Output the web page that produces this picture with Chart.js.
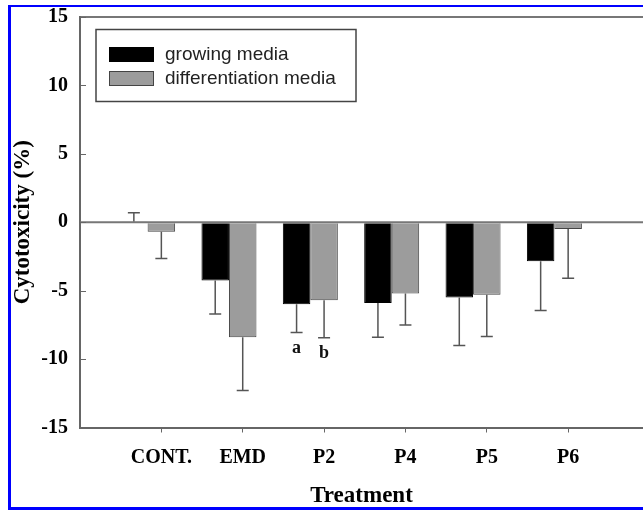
<!DOCTYPE html>
<html>
<head>
<meta charset="utf-8">
<script src="https://cdn.jsdelivr.net/npm/chart.js@4.4.0/dist/chart.umd.min.js"></script>
<style>
  html, body { margin: 0; padding: 0; background: #fff; overflow: hidden; }
  #wrap { position: relative; width: 643px; height: 510px; }
  #frame { position: absolute; left: 8px; top: 5px; width: 700px; height: 505px; box-sizing: border-box;
           border-left: 3px solid #0000ff; border-top: 2px solid #0000ff; border-bottom: 3px solid #0000ff;
           pointer-events: none; }
</style>
</head>
<body>
<div id="wrap">
  <canvas id="chart" width="643" height="510"></canvas>
  <div id="frame"></div>
</div>
<script>
// values
const categories = ['CONT.', 'EMD', 'P2', 'P4', 'P5', 'P6'];
const growingMedia = [0.05, -4.25, -6.0, -5.9, -5.5, -2.85];
const growingErr = [0.65, 2.45, 2.05, 2.5, 3.5, 3.6];
const diffMedia = [-0.7, -8.4, -5.7, -5.2, -5.3, -0.5];
const diffErr = [1.95, 3.9, 2.75, 2.3, 3.05, 3.6];
const yTicks = [-15, -10, -5, 0, 5, 10, 15];

// letters under the P2 bars
const noteText = ['a', 'b'];
const noteCategory = ['P2', 'P2'];
const noteSeries = [0, 1];
const noteY = [-9.25, -9.55];

const serif = '"Liberation Serif", "Times New Roman", serif';
const sans = '"Liberation Sans", Arial, sans-serif';

// bars sit half a bar left of the tick (tick lines up with the grey bar)
const barFrac = 0.676;
const shift = barFrac / 4;
const xMax = 6.92;

const errorBars = {
  id: 'errorBars',
  afterDatasetsDraw(chart) {
    const ctx = chart.ctx, y = chart.scales.y, area = chart.chartArea;
    ctx.save();
    // zero line over the bars
    ctx.strokeStyle = '#777';
    ctx.lineWidth = 2;
    const y0 = y.getPixelForValue(0);
    ctx.beginPath(); ctx.moveTo(area.left, y0); ctx.lineTo(area.right, y0); ctx.stroke();

    ctx.strokeStyle = '#555';
    ctx.lineWidth = 1.5;
    chart.data.datasets.forEach((ds, di) => {
      const meta = chart.getDatasetMeta(di);
      meta.data.forEach((bar, i) => {
        const v = ds.data[i].y, e = ds.errors[i];
        const end = y.getPixelForValue(v < 0 ? v - e : v + e);
        ctx.beginPath();
        ctx.moveTo(bar.x, bar.y); ctx.lineTo(bar.x, end);
        ctx.moveTo(bar.x - 6, end); ctx.lineTo(bar.x + 6, end);
        ctx.stroke();
      });
    });
    ctx.restore();
  }
};

const extras = {
  id: 'extras',
  afterDraw(chart) {
    const ctx = chart.ctx, y = chart.scales.y, area = chart.chartArea;
    ctx.save();
    // inward y tick marks
    ctx.strokeStyle = '#666';
    ctx.lineWidth = 1;
    yTicks.forEach(v => {
      const py = Math.round(y.getPixelForValue(v)) + 0.5;
      ctx.beginPath(); ctx.moveTo(area.left, py); ctx.lineTo(area.left + 6, py); ctx.stroke();
    });

    // legend box
    ctx.strokeStyle = '#444';
    ctx.lineWidth = 1.5;
    ctx.strokeRect(96, 29.5, 260, 72);
    chart.data.datasets.forEach((ds, i) => {
      const top = 47 + i * 24;
      ctx.fillStyle = ds.backgroundColor;
      ctx.fillRect(109, top, 45, 15);
      ctx.strokeStyle = ds.borderColor;
      ctx.lineWidth = 1;
      ctx.strokeRect(109.5, top + 0.5, 44, 14);
      ctx.fillStyle = '#222';
      ctx.font = '19px ' + sans;
      ctx.textBaseline = 'middle';
      ctx.textAlign = 'left';
      ctx.fillText(ds.label, 165, top + 8);
    });

    // letters
    ctx.fillStyle = '#111';
    ctx.font = 'bold 18px ' + serif;
    ctx.textAlign = 'center';
    ctx.textBaseline = 'middle';
    noteText.forEach((t, k) => {
      const idx = categories.indexOf(noteCategory[k]);
      const bar = chart.getDatasetMeta(noteSeries[k]).data[idx];
      ctx.fillText(t, bar.x, y.getPixelForValue(noteY[k]));
    });
    ctx.restore();
  }
};

new Chart(document.getElementById('chart'), {
  type: 'bar',
  data: {
    datasets: [
      {
        label: 'growing media',
        data: growingMedia.map((v, i) => ({ x: i + 1, y: v })),
        errors: growingErr,
        backgroundColor: '#000000',
        borderColor: '#000000',
        borderWidth: 1,
        xAxisID: 'xb'
      },
      {
        label: 'differentiation media',
        data: diffMedia.map((v, i) => ({ x: i + 1, y: v })),
        errors: diffErr,
        backgroundColor: '#9c9c9c',
        borderColor: '#444444',
        borderWidth: 1,
        xAxisID: 'xb'
      }
    ]
  },
  options: {
    responsive: false,
    animation: false,
    categoryPercentage: barFrac,
    barPercentage: 1.0,
    layout: { padding: { top: 17, right: 0, left: 0, bottom: 0 } },
    plugins: { legend: { display: false }, tooltip: { enabled: false } },
    scales: {
      xb: {
        type: 'linear', display: false, offset: false, min: shift, max: xMax + shift,
        grid: { offset: false },
        afterBuildTicks: s => { s.ticks = categories.map((c, i) => ({ value: i + 1 })); }
      },
      x: {
        type: 'linear', position: 'bottom', offset: false, min: 0, max: xMax,
        afterBuildTicks: s => { s.ticks = categories.map((c, i) => ({ value: i + 1 })); },
        afterFit: s => { s.height = 82.5; s.paddingLeft = 0; s.paddingRight = 0; },
        ticks: {
          callback: v => categories[v - 1],
          font: { family: serif, size: 20, weight: 'bold' },
          color: '#000', padding: 13, maxRotation: 0, autoSkip: false
        },
        grid: { offset: false, drawOnChartArea: false, drawTicks: true, tickLength: 5, color: '#666' },
        border: { display: true, color: '#666', width: 2 },
        title: {
          display: true, text: 'Treatment', color: '#000',
          font: { family: serif, size: 23, weight: 'bold' },
          padding: { top: 0, bottom: 0 }
        }
      },
      y: {
        min: -15, max: 15,
        afterBuildTicks: s => { s.ticks = yTicks.map(v => ({ value: v })); },
        afterFit: s => { s.width = 80; s.paddingTop = 0; s.paddingBottom = 0; },
        ticks: {
          font: { family: serif, size: 20, weight: 'bold' },
          color: '#000', padding: 12
        },
        grid: {
          drawTicks: false, lineWidth: 2,
          color: c => (c.tick && c.tick.value === 15 ? '#777' : 'rgba(0,0,0,0)')
        },
        border: { display: true, color: '#666', width: 2 },
        title: {
          display: true, text: 'Cytotoxicity (%)', color: '#000',
          font: { family: serif, size: 23, weight: 'bold' },
          padding: { top: 9, bottom: 0 }
        }
      }
    }
  },
  plugins: [errorBars, extras]
});
</script>
</body>
</html>
